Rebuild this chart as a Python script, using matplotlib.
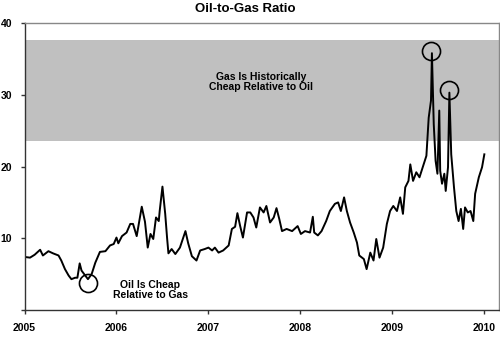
import matplotlib
matplotlib.use("Agg")
import matplotlib.pyplot as plt

plt.rcParams['font.family'] = ['Liberation Sans', 'DejaVu Sans']
plt.rcParams['font.weight'] = 'bold'

# --- data (decimal year, oil/gas ratio) ---
years = [
    2005.00, 2005.06, 2005.11, 2005.17, 2005.20, 2005.26, 2005.31, 2005.37,
    2005.40, 2005.44, 2005.48, 2005.51, 2005.55, 2005.575, 2005.60, 2005.62,
    2005.66, 2005.69, 2005.73, 2005.77, 2005.82, 2005.88, 2005.93, 2005.97,
    2006.00, 2006.02, 2006.06, 2006.11, 2006.15, 2006.18, 2006.22, 2006.25,
    2006.275, 2006.31, 2006.34, 2006.37, 2006.40, 2006.43, 2006.46, 2006.47,
    2006.50, 2006.53, 2006.55, 2006.565, 2006.60, 2006.64, 2006.69, 2006.75,
    2006.78, 2006.82, 2006.87, 2006.91, 2006.96, 2007.00, 2007.04, 2007.07,
    2007.11, 2007.16, 2007.22, 2007.255, 2007.29, 2007.315, 2007.345, 2007.375,
    2007.42, 2007.455, 2007.49, 2007.52, 2007.56, 2007.60, 2007.63, 2007.67,
    2007.71, 2007.74, 2007.77, 2007.80, 2007.85, 2007.91, 2007.97, 2008.005,
    2008.05, 2008.105, 2008.135, 2008.15, 2008.19, 2008.23, 2008.28, 2008.32,
    2008.375, 2008.41, 2008.44, 2008.475, 2008.505, 2008.54, 2008.58, 2008.615,
    2008.64, 2008.69, 2008.72, 2008.76, 2008.795, 2008.825, 2008.86, 2008.90,
    2008.94, 2008.975, 2009.01, 2009.05, 2009.085, 2009.115, 2009.14, 2009.175,
    2009.195, 2009.225, 2009.26, 2009.295, 2009.33, 2009.37, 2009.395, 2009.42,
    2009.43, 2009.45, 2009.47, 2009.49, 2009.51, 2009.52, 2009.54, 2009.565,
    2009.58, 2009.605, 2009.62, 2009.64, 2009.67, 2009.695, 2009.72, 2009.745,
    2009.77, 2009.79, 2009.82, 2009.85, 2009.88, 2009.90, 2009.94, 2009.975,
    2010.00,
]
ratio = [
    7.4, 7.3, 7.7, 8.4, 7.6, 8.2, 7.9, 7.6,
    6.9, 5.7, 4.8, 4.3, 4.5, 4.5, 6.5, 5.5,
    4.8, 4.3, 5.0, 6.6, 8.1, 8.2, 9.0, 9.2,
    10.1, 9.3, 10.3, 10.8, 12.0, 12.0, 10.3, 12.5,
    14.4, 12.3, 8.7, 10.6, 9.9, 12.9, 12.4, 13.8,
    17.2, 13.4, 10.1, 7.9, 8.5, 7.8, 8.7, 11.0,
    9.3, 7.5, 6.9, 8.3, 8.5, 8.7, 8.3, 8.7,
    8.0, 8.3, 9.0, 11.3, 11.6, 13.5, 11.7, 10.1,
    13.6, 13.6, 12.9, 11.5, 14.3, 13.6, 14.5, 12.2,
    12.9, 14.2, 12.7, 11.0, 11.3, 11.0, 11.7, 10.6,
    11.0, 10.8, 13.0, 10.8, 10.4, 11.0, 12.4, 13.8,
    14.8, 15.0, 13.8, 15.7, 13.8, 12.2, 10.8, 9.4,
    7.6, 7.1, 5.7, 8.0, 6.9, 9.9, 7.3, 8.7,
    12.0, 13.8, 14.5, 13.8, 15.7, 13.4, 17.1, 18.0,
    20.3, 18.0, 19.2, 18.5, 19.9, 21.5, 26.8, 29.2,
    35.8, 25.9, 20.8, 19.0, 27.8, 19.4, 17.6, 19.0,
    16.6, 19.9, 30.3, 21.7, 17.1, 13.8, 12.4, 14.1,
    11.3, 14.3, 13.6, 13.8, 12.4, 16.2, 18.5, 19.9,
    21.7,
]

band_low, band_high = 23.5, 37.6
circle_years = [2005.694, 2009.42, 2009.616]
circle_vals = [3.72, 36.1, 30.66]
x_ticks = [2005, 2006, 2007, 2008, 2009, 2010]
y_ticks = [0, 10, 20, 30, 40]
y_labels = ['', '10', '20', '30', '40']

fig = plt.figure(figsize=(5, 3.4), dpi=100)
ax = fig.add_axes([0.049, 0.0882, 0.948, 0.844])

ax.axhspan(band_low, band_high, color='#c0c0c0', lw=0, zorder=0)
ax.plot(years, ratio, color='black', lw=1.4, zorder=2)
ax.plot(circle_years, circle_vals, 'o', ms=13, mfc='none', mec='black',
        mew=1.2, zorder=3)

ax.text(2007.57, 31.8, 'Gas Is Historically\nCheap Relative to Oil',
        ha='center', va='center', fontsize=7.5, fontweight='bold',
        linespacing=1.05)
ax.text(2006.37, 2.8, 'Oil Is Cheap\nRelative to Gas',
        ha='center', va='center', fontsize=7.5, fontweight='bold',
        linespacing=1.05)

ax.set_xlim(2005, 2010.154)
ax.set_ylim(0, 40)
ax.set_xticks(x_ticks)
ax.set_xticklabels([str(y) for y in x_ticks])
ax.set_yticks(y_ticks)
ax.set_yticklabels(y_labels)
ax.tick_params(axis='both', direction='out', length=3, width=1,
               colors='#333333', labelcolor='black', labelsize=7.5)
ax.tick_params(axis='y', pad=6)
ax.tick_params(axis='x', pad=6)

for side in ['left', 'bottom']:
    ax.spines[side].set_color('#333333')
    ax.spines[side].set_linewidth(1.0)
for side in ['top', 'right']:
    ax.spines[side].set_color('#888888')
    ax.spines[side].set_linewidth(1.0)

fig.text(0.49, 0.975, 'Oil-to-Gas Ratio', ha='center', va='center',
         fontsize=9.5, fontweight='bold')

fig.savefig('out.png', dpi=100)
